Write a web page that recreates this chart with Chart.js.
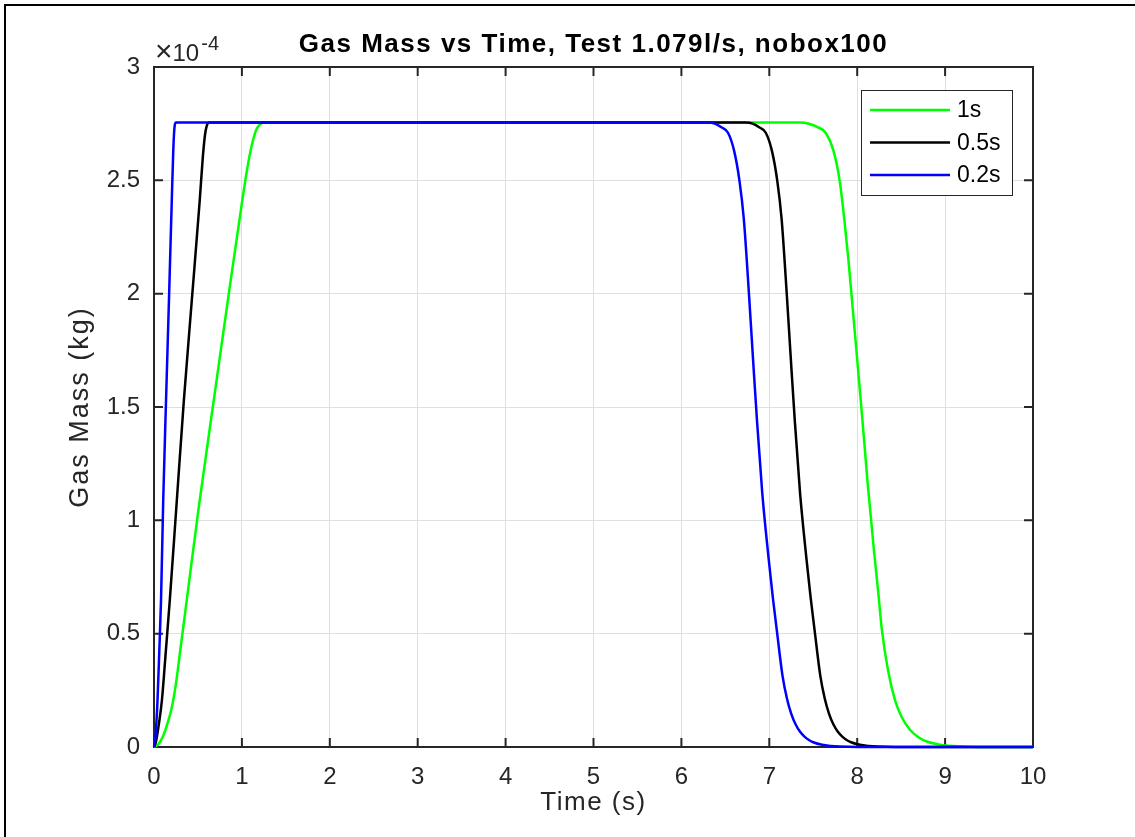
<!DOCTYPE html>
<html>
<head>
<meta charset="utf-8">
<script src="https://cdn.jsdelivr.net/npm/chart.js@4.4.1/dist/chart.umd.min.js"></script>
<style>
html, body { margin: 0; padding: 0; background: #fff; }
canvas { display: block; }
</style>
</head>
<body>
<canvas id="chart" width="1135" height="837" style="width:1135px;height:837px"></canvas>
<script>
const TITLE = "Gas Mass vs Time, Test 1.079l/s, nobox100";
const X_LABEL = "Time (s)";
const Y_LABEL = "Gas Mass (kg)";
const X_TICKS = [0, 1, 2, 3, 4, 5, 6, 7, 8, 9, 10];
const Y_TICKS = [0, 0.5e-4, 1e-4, 1.5e-4, 2e-4, 2.5e-4, 3e-4];
const Y_SCALE = 1e-4; // masses below are in 1e-4 kg

const SERIES_NAMES = ["1s", "0.5s", "0.2s"];
const SERIES_COLORS = ["#00ff00", "#000000", "#0000ff"];

// 1s ramp
const time1s = [0, 0.05, 0.1, 0.15, 0.2, 0.25, 0.3, 0.375, 0.51, 0.68, 0.84, 1.0, 1.06, 1.11, 1.16, 1.2, 1.25,
    7.35, 7.45, 7.55, 7.64, 7.73, 7.8, 7.85, 7.9, 7.95, 8.0, 8.06, 8.12, 8.19, 8.24, 8.28, 8.35, 8.43, 8.5,
    8.6, 8.7, 8.8, 8.9, 9.0, 9.1, 9.2, 9.4, 10];
const mass1s = [0, 0.012, 0.045, 0.1, 0.17, 0.28, 0.43, 0.655, 1.06, 1.53, 1.97, 2.4, 2.55, 2.65, 2.72, 2.745, 2.755,
    2.755, 2.75, 2.735, 2.71, 2.63, 2.5, 2.34, 2.15, 1.93, 1.71, 1.44, 1.16, 0.87, 0.68, 0.52, 0.34, 0.207, 0.137,
    0.076, 0.042, 0.023, 0.0128, 0.007, 0.004, 0.002, 0, 0];

// 0.5s ramp
const time05s = [0, 0.02, 0.04, 0.09, 0.13, 0.18, 0.26, 0.34, 0.43, 0.52, 0.555, 0.58, 0.6, 0.625,
    6.73, 6.81, 6.88, 6.96, 7.03, 7.09, 7.14, 7.2, 7.25, 7.29, 7.35, 7.42, 7.47, 7.52, 7.58, 7.63, 7.68,
    7.73, 7.78, 7.83, 7.88, 7.93, 8.03, 8.13, 8.23, 8.43, 10];
const mass05s = [0, 0.02, 0.062, 0.207, 0.4, 0.649, 1.09, 1.53, 1.97, 2.41, 2.6, 2.7, 2.74, 2.755,
    2.755, 2.75, 2.735, 2.71, 2.63, 2.5, 2.33, 1.99, 1.68, 1.44, 1.12, 0.84, 0.66, 0.5, 0.315, 0.215, 0.146,
    0.099, 0.067, 0.046, 0.031, 0.021, 0.0098, 0.0046, 0.002, 0, 0];

// 0.2s ramp
const time02s = [0, 0.01, 0.02, 0.04, 0.06, 0.08, 0.105, 0.137, 0.17, 0.2, 0.22, 0.235, 0.25,
    6.3, 6.38, 6.45, 6.53, 6.6, 6.66, 6.71, 6.77, 6.82, 6.86, 6.92, 6.99, 7.04, 7.09, 7.15, 7.2, 7.25,
    7.3, 7.35, 7.4, 7.45, 7.5, 7.6, 7.7, 7.8, 8.0, 10];
const mass02s = [0, 0.02, 0.062, 0.207, 0.42, 0.649, 1.09, 1.53, 1.97, 2.38, 2.64, 2.74, 2.755,
    2.755, 2.75, 2.735, 2.71, 2.63, 2.5, 2.33, 1.99, 1.68, 1.44, 1.12, 0.84, 0.66, 0.5, 0.315, 0.215, 0.146,
    0.099, 0.067, 0.046, 0.031, 0.021, 0.0098, 0.0046, 0.002, 0, 0];

const SERIES_TIME = [time1s, time05s, time02s];
const SERIES_MASS = [mass1s, mass05s, mass02s];

const AXIS_COLOR = "#262626";
const FONT = "'Liberation Sans', Arial, sans-serif";

const toPoints = (times, masses) => times.map((t, i) => ({ x: t, y: masses[i] * Y_SCALE }));

const decorations = {
    id: "decorations",
    beforeDatasetsDraw(chart) {
        const { ctx, scales: { x, y } } = chart;
        const left = x.getPixelForValue(0), right = x.getPixelForValue(10);
        const top = y.getPixelForValue(3e-4), bottom = y.getPixelForValue(0);
        ctx.save();
        ctx.strokeStyle = AXIS_COLOR;
        ctx.lineWidth = 2;
        ctx.strokeRect(left, top, right - left, bottom - top);
        ctx.beginPath();
        X_TICKS.forEach(v => {
            const px = x.getPixelForValue(v);
            ctx.moveTo(px, bottom); ctx.lineTo(px, bottom - 9);
            ctx.moveTo(px, top); ctx.lineTo(px, top + 9);
        });
        Y_TICKS.forEach(v => {
            const py = y.getPixelForValue(v);
            ctx.moveTo(left, py); ctx.lineTo(left + 9, py);
            ctx.moveTo(right, py); ctx.lineTo(right - 9, py);
        });
        ctx.stroke();
        ctx.restore();
    },
    afterDraw(chart) {
        const { ctx, scales: { x, y } } = chart;
        const left = x.getPixelForValue(0), right = x.getPixelForValue(10);
        const top = y.getPixelForValue(3e-4), bottom = y.getPixelForValue(0);
        const cx = (left + right) / 2;
        ctx.save();

        // figure border
        ctx.strokeStyle = "#000";
        ctx.lineWidth = 2;
        ctx.beginPath();
        ctx.moveTo(5, 837); ctx.lineTo(5, 5); ctx.lineTo(1135, 5);
        ctx.stroke();

        // title
        ctx.fillStyle = "#000";
        ctx.textAlign = "center";
        ctx.textBaseline = "alphabetic";
        ctx.font = "bold 26px " + FONT;
        ctx.letterSpacing = "1.5px";
        ctx.fillText(TITLE, cx, 52);

        // axis labels
        ctx.fillStyle = AXIS_COLOR;
        ctx.font = "26px " + FONT;
        ctx.letterSpacing = "1.5px";
        ctx.fillText(X_LABEL, cx, 810);
        ctx.save();
        ctx.translate(88, (top + bottom) / 2);
        ctx.rotate(-Math.PI / 2);
        ctx.font = "27px " + FONT;
        ctx.letterSpacing = "2px";
        ctx.fillText(Y_LABEL, 0, 0);
        ctx.restore();

        // exponent
        ctx.letterSpacing = "0px";
        ctx.textAlign = "left";
        ctx.font = "30px " + FONT;
        ctx.fillText("\u00d7", left + 1, 61);
        const wx = ctx.measureText("\u00d7").width;
        ctx.font = "24px " + FONT;
        ctx.fillText("10", left + 1 + wx, 61);
        const w10 = ctx.measureText("10").width;
        ctx.font = "20px " + FONT;
        ctx.fillText("-4", left + 3 + wx + w10, 50);

        // legend
        const lx = 861, ly = 90, lw = 151, lh = 105;
        ctx.fillStyle = "#fff";
        ctx.fillRect(lx, ly, lw, lh);
        ctx.strokeStyle = AXIS_COLOR;
        ctx.lineWidth = 1;
        ctx.strokeRect(lx + 0.5, ly + 0.5, lw, lh);
        ctx.font = "23px " + FONT;
        ctx.textBaseline = "middle";
        chart.data.datasets.forEach((ds, i) => {
            const ry = ly + 20 + i * 32.5;
            ctx.strokeStyle = ds.borderColor;
            ctx.lineWidth = 2.5;
            ctx.beginPath();
            ctx.moveTo(lx + 9, ry); ctx.lineTo(lx + 89, ry);
            ctx.stroke();
            ctx.fillStyle = "#000";
            ctx.fillText(ds.label, lx + 96, ry + 1);
        });
        ctx.restore();
    }
};

new Chart(document.getElementById("chart"), {
    type: "line",
    data: {
        datasets: SERIES_NAMES.map((name, i) => ({
            label: name,
            data: toPoints(SERIES_TIME[i], SERIES_MASS[i]),
            borderColor: SERIES_COLORS[i],
            borderWidth: 2.5,
            pointRadius: 0,
            fill: false,
            cubicInterpolationMode: "monotone",
            order: SERIES_NAMES.length - i,
            clip: 4
        }))
    },
    options: {
        responsive: false,
        animation: false,
        devicePixelRatio: 1,
        layout: { padding: { top: 67, right: 102, left: 0, bottom: 0 } },
        plugins: { legend: { display: false }, tooltip: { enabled: false }, title: { display: false } },
        scales: {
            x: {
                type: "linear",
                min: 0, max: 10,
                afterFit: s => { s.height = 90; },
                afterBuildTicks: s => { s.ticks = X_TICKS.map(v => ({ value: v })); },
                grid: { color: "#dfdfdf", lineWidth: 1, drawTicks: false },
                border: { display: false },
                ticks: { color: AXIS_COLOR, font: { family: FONT, size: 24 }, padding: 16, maxRotation: 0 }
            },
            y: {
                type: "linear",
                min: 0, max: 3e-4,
                afterFit: s => { s.width = 154; },
                afterBuildTicks: s => { s.ticks = Y_TICKS.map(v => ({ value: v })); },
                grid: { color: "#dfdfdf", lineWidth: 1, drawTicks: false },
                border: { display: false },
                ticks: {
                    color: AXIS_COLOR, font: { family: FONT, size: 24 }, padding: 14,
                    callback: v => String(+(v / Y_SCALE).toFixed(2))
                }
            }
        }
    },
    plugins: [decorations]
});
</script>
</body>
</html>
